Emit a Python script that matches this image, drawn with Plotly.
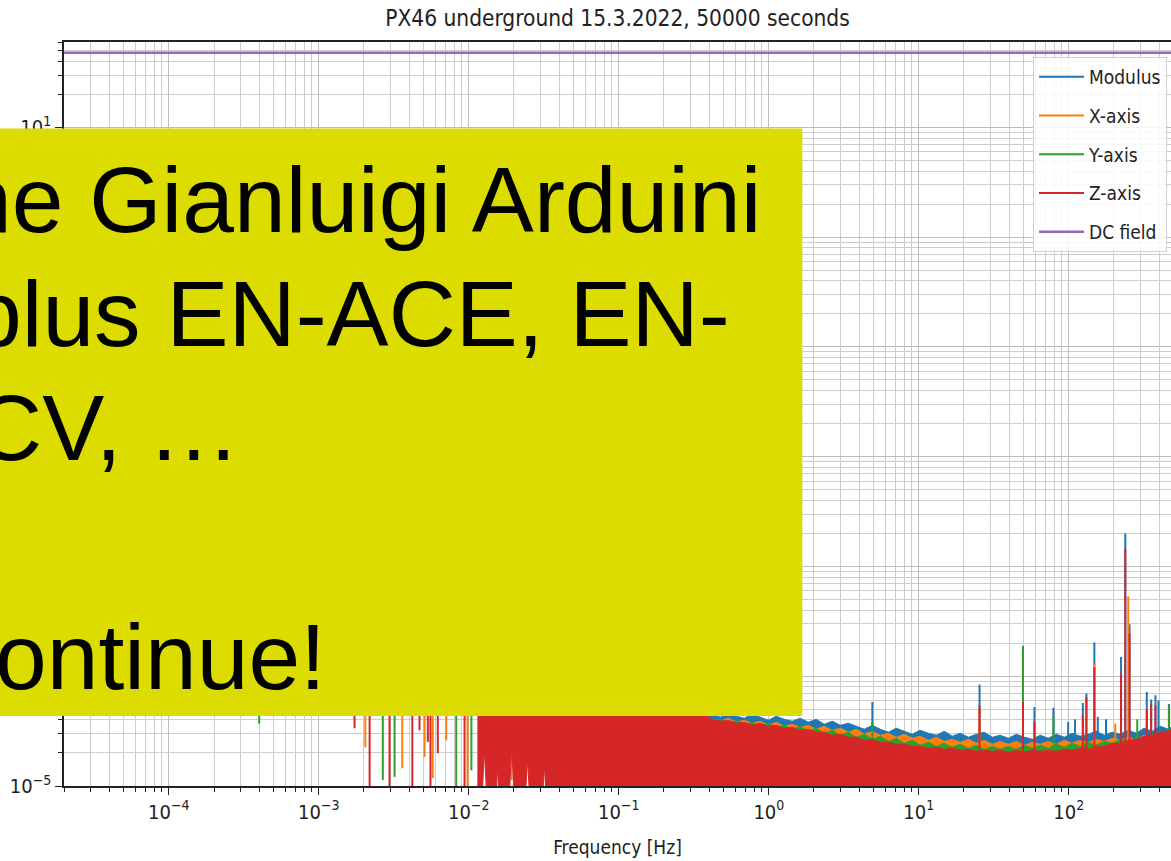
import math
import plotly.graph_objects as go

# ---------------------------------------------------------------------------
# Spectrum data (amplitude spectral density of the four magnetometer channels)
# ---------------------------------------------------------------------------
freq_min = 1 / 50000      # lowest resolved frequency of a 50000 s record, Hz
freq_max = 480            # upper end of the plotted band, Hz
floor_val = 1e-6          # below the lower edge of the plot
dip_level = 2e-4          # level the low-frequency dips fall from

# upper noise envelope of each channel above ~0.4 Hz
env_freq = [0.42, 0.475, 0.537, 0.607, 0.686, 0.776, 0.877, 0.992, 1.12, 1.27,
            1.43, 1.62, 1.83, 2.07, 2.34, 2.65, 3.0, 3.39, 3.83, 4.33,
            4.9, 5.54, 6.26, 7.08, 8.0, 9.05, 10.2, 11.6, 13.1, 14.8,
            16.7, 18.9, 21.4, 24.2, 27.3, 30.9, 34.9, 39.5, 44.7, 50.5,
            57.1, 64.5, 73, 82.5, 93.3, 105, 119, 135, 152, 172,
            195, 220, 249, 282, 318, 360, 407, 460, 480]
modulus_env = [4.50e-5, 4.23e-5, 4.60e-5, 4.32e-5, 4.14e-5, 4.50e-5, 4.23e-5, 3.97e-5, 4.32e-5, 4.05e-5,
               3.89e-5, 4.14e-5, 3.81e-5, 4.05e-5, 3.65e-5, 3.89e-5, 3.57e-5, 3.73e-5, 3.50e-5, 3.29e-5,
               3.57e-5, 3.29e-5, 3.09e-5, 3.36e-5, 3.15e-5, 2.96e-5, 3.22e-5, 3.02e-5, 2.90e-5, 3.15e-5,
               2.84e-5, 3.02e-5, 2.78e-5, 2.96e-5, 3.09e-5, 2.78e-5, 2.90e-5, 2.72e-5, 2.96e-5, 2.78e-5,
               2.66e-5, 2.90e-5, 2.72e-5, 2.96e-5, 2.78e-5, 3.02e-5, 2.84e-5, 2.96e-5, 3.15e-5, 2.90e-5,
               3.09e-5, 2.96e-5, 3.22e-5, 3.02e-5, 3.36e-5, 3.15e-5, 3.50e-5, 3.29e-5, 3.43e-5]
xaxis_env = [4.05e-5, 3.89e-5, 4.14e-5, 3.81e-5, 3.97e-5, 3.73e-5, 3.89e-5, 3.57e-5, 3.81e-5, 3.50e-5,
             3.65e-5, 3.43e-5, 3.57e-5, 3.29e-5, 3.50e-5, 3.22e-5, 3.36e-5, 3.09e-5, 3.29e-5, 2.96e-5,
             3.15e-5, 2.90e-5, 3.02e-5, 2.78e-5, 2.96e-5, 2.72e-5, 2.84e-5, 2.61e-5, 2.78e-5, 2.55e-5,
             2.66e-5, 2.50e-5, 2.66e-5, 2.45e-5, 2.61e-5, 2.40e-5, 2.55e-5, 2.40e-5, 2.55e-5, 2.35e-5,
             2.50e-5, 2.40e-5, 2.55e-5, 2.40e-5, 2.61e-5, 2.45e-5, 2.61e-5, 2.50e-5, 2.66e-5, 2.55e-5,
             2.72e-5, 2.61e-5, 2.78e-5, 2.66e-5, 2.90e-5, 2.78e-5, 3.02e-5, 2.84e-5, 2.96e-5]
yaxis_env = [3.89e-5, 4.05e-5, 3.73e-5, 3.97e-5, 3.65e-5, 3.81e-5, 3.50e-5, 3.73e-5, 3.43e-5, 3.57e-5,
             3.29e-5, 3.50e-5, 3.15e-5, 3.36e-5, 3.02e-5, 3.22e-5, 2.90e-5, 3.09e-5, 2.78e-5, 2.96e-5,
             2.66e-5, 2.84e-5, 2.55e-5, 2.72e-5, 2.45e-5, 2.61e-5, 2.35e-5, 2.50e-5, 2.30e-5, 2.45e-5,
             2.25e-5, 2.40e-5, 2.21e-5, 2.35e-5, 2.16e-5, 2.30e-5, 2.16e-5, 2.30e-5, 2.16e-5, 2.35e-5,
             2.21e-5, 2.35e-5, 2.21e-5, 2.40e-5, 2.25e-5, 2.45e-5, 2.30e-5, 2.50e-5, 2.35e-5, 2.55e-5,
             2.45e-5, 2.66e-5, 2.55e-5, 2.78e-5, 2.66e-5, 2.96e-5, 2.84e-5, 3.22e-5, 3.09e-5]
zaxis_env = [4.05e-5, 3.89e-5, 3.97e-5, 3.73e-5, 3.81e-5, 3.57e-5, 3.73e-5, 3.50e-5, 3.57e-5, 3.36e-5,
             3.43e-5, 3.22e-5, 3.29e-5, 3.09e-5, 3.09e-5, 2.90e-5, 2.96e-5, 2.78e-5, 2.78e-5, 2.61e-5,
             2.66e-5, 2.50e-5, 2.50e-5, 2.40e-5, 2.40e-5, 2.30e-5, 2.30e-5, 2.21e-5, 2.25e-5, 2.16e-5,
             2.21e-5, 2.12e-5, 2.16e-5, 2.07e-5, 2.12e-5, 2.07e-5, 2.12e-5, 2.03e-5, 2.12e-5, 2.03e-5,
             2.12e-5, 2.07e-5, 2.12e-5, 2.07e-5, 2.16e-5, 2.12e-5, 2.21e-5, 2.16e-5, 2.30e-5, 2.30e-5,
             2.45e-5, 2.45e-5, 2.61e-5, 2.66e-5, 2.84e-5, 2.90e-5, 3.09e-5, 3.15e-5, 3.22e-5]

# envelope below 0.4 Hz (band starts where the dense trace fills the plot)
lead_freq = [0.045, 0.1, 0.2, 0.35]
modulus_lead = [1.2e-4, 8.0e-5, 6.0e-5, 5.2e-5]
xaxis_lead = [1.1e-4, 7.5e-5, 5.8e-5, 5.0e-5]
yaxis_lead = [1.1e-4, 7.5e-5, 5.8e-5, 5.0e-5]
z_lead_freq = [0.0114, 0.02, 0.045, 0.1, 0.2, 0.35]
zaxis_lead = [3.0e-4, 2.0e-4, 1.3e-4, 8.0e-5, 6.0e-5, 5.0e-5]

# lower edge of the Z band where it first becomes dense
z_low_freq = [0.0114, 0.0127, 0.0142, 0.0155, 0.0173, 0.0193, 0.0218,
              0.0246, 0.0279, 0.032, 0.0356, 0.0402, 0.0442]
z_low_val = [floor_val, 2.12e-5, floor_val, 1.49e-5, floor_val, 2.27e-5, floor_val,
             1.71e-5, floor_val, 1.49e-5, floor_val, 1.13e-5, floor_val]

# isolated downward excursions at low frequency
xaxis_dip_freq = [2.04e-3, 3.6e-3, 5.07e-3, 5.75e-3, 7.07e-3, 9.8e-3, 0.0193]
xaxis_dip_val = [2.25e-5, 1.45e-5, 1.84e-5, 1.18e-5, 2.61e-5, floor_val, 1.13e-5]
yaxis_dip_freq = [4.0e-4, 2.67e-3, 3.2e-3, 8.24e-3, 0.0104]
yaxis_dip_val = [3.7e-5, 1.13e-5, 1.21e-5, floor_val, 1.39e-5]
zaxis_dip_freq = [1.73e-3, 2.18e-3, 2.96e-3, 4.2e-3, 4.69e-3, 5.33e-3, 5.55e-3, 6.21e-3, 9.36e-3]
zaxis_dip_val = [3.36e-5, floor_val, floor_val, floor_val, 3.22e-5, 2.52e-5, floor_val, 1.99e-5, floor_val]

# spectral lines
modulus_peak_freq = [4.9, 25.4, 49.5, 59, 79, 99, 110, 124, 131, 148,
                     156, 177, 223, 238, 254, 331, 354, 378, 396, 465]
modulus_peak_val = [5.83e-5, 8.39e-5, 1.89e-4, 5.25e-5, 5.18e-5, 3.83e-5, 4.05e-5, 5.7e-5, 6.95e-5, 2.03e-4,
                    4.26e-5, 4.05e-5, 1.50e-4, 2.0e-3, 2.98e-4, 7.19e-5, 6.13e-5, 6.71e-5, 6.04e-5, 5.6e-5]
xaxis_peak_freq = [25.4, 49.5, 148, 204, 249]
xaxis_peak_val = [5.0e-5, 1.2e-4, 1.30e-4, 3.7e-5, 5.35e-4]
yaxis_peak_freq = [4.9, 49.5, 79, 286, 465]
yaxis_peak_val = [3.83e-5, 1.85e-4, 4.26e-5, 4.05e-5, 5.44e-5]
zaxis_peak_freq = [25.4, 49.5, 59, 124, 131, 148, 223, 238, 254, 331, 354, 378]
zaxis_peak_val = [5.44e-5, 5.8e-5, 3.83e-5, 4.4e-5, 6.47e-5, 1.21e-4, 1.06e-4, 1.44e-3, 2.45e-4,
                  4.97e-5, 5.55e-5, 5.44e-5]

dc_field = 47.9

series_names = ["Modulus", "X-axis", "Y-axis", "Z-axis"]
dc_name = "DC field"

x_tick_vals = [1e-4, 1e-3, 1e-2, 1e-1, 1, 10, 100]
x_tick_text = ["10<sup>\u22124</sup>", "10<sup>\u22123</sup>", "10<sup>\u22122</sup>",
               "10<sup>\u22121</sup>", "10<sup>0</sup>", "10<sup>1</sup>", "10<sup>2</sup>"]
# decades 10^-4 .. 10^0 sit under the slide box, so only the ends carry a label
y_tick_vals = [1e-5, 1e-4, 1e-3, 1e-2, 1e-1, 1, 10]
y_tick_text = ["10<sup>\u22125</sup>", "", "", "", "", "", "10<sup>1</sup>"]
y_top = 60

title_text = "PX46 underground 15.3.2022, 50000 seconds"
x_title = "Frequency [Hz]"
box_lines = ["he Gianluigi Arduini", "plus EN-ACE, EN-", "CV, \u2026", "ontinue!"]

# ---------------------------------------------------------------------------
# Geometry and styling
# ---------------------------------------------------------------------------
W, H = 1171, 861
ML, MT, MB = 64, 42, 75
PW, PH = W - ML, H - MT - MB

def px(x):
    return (x - ML) / PW

def py(y):
    return (H - MB - y) / PH

COLORS = ["#1f77b4", "#ff7f0e", "#2ca02c", "#d62728"]
DC_COLOR = "#9467bd"
CHART_FONT = "DejaVu Sans Condensed, DejaVu Sans, sans-serif"
BOX_FONT = "Liberation Sans, Arial, sans-serif"
INK = "#222222"
GRID_MAJOR = "#bdbdbd"
GRID_MINOR = "#cdcdcd"
BOX_COLOR = "#dcdc00"


def segments(freqs, tops, bottoms):
    xs, ys = [], []
    for f, t, b in zip(freqs, tops, bottoms):
        xs += [f, f, None]
        ys += [b, t, None]
    return xs, ys


fig = go.Figure()

leads = [(lead_freq, modulus_lead), (lead_freq, xaxis_lead), (lead_freq, yaxis_lead), (z_lead_freq, zaxis_lead)]
envs = [modulus_env, xaxis_env, yaxis_env, zaxis_env]
dips = [([], []), (xaxis_dip_freq, xaxis_dip_val), (yaxis_dip_freq, yaxis_dip_val), (zaxis_dip_freq, zaxis_dip_val)]
peaks = [(modulus_peak_freq, modulus_peak_val), (xaxis_peak_freq, xaxis_peak_val),
         (yaxis_peak_freq, yaxis_peak_val), (zaxis_peak_freq, zaxis_peak_val)]

for i, name in enumerate(series_names):
    color = COLORS[i]
    lf, lv = leads[i]
    band_x = list(lf) + env_freq
    band_y = list(lv) + envs[i]
    if name == "Z-axis":
        band_x += [freq_max] + z_low_freq[::-1]
        band_y += [floor_val] + z_low_val[::-1]
    else:
        band_x += [env_freq[-1], lf[0]]
        band_y += [floor_val, floor_val]
    fig.add_trace(go.Scatter(
        x=band_x, y=band_y, mode="lines", fill="toself", fillcolor=color,
        line=dict(color=color, width=1), showlegend=False, legendgroup=name,
        hoverinfo="skip"))

    df, dv = dips[i]
    sx1, sy1 = segments(df, dv, [dip_level] * len(df))
    pf, pv = peaks[i]
    sx2, sy2 = segments(pf, pv, [floor_val] * len(pf))
    fig.add_trace(go.Scatter(
        x=sx1 + sx2, y=sy1 + sy2, mode="lines", name=name, legendgroup=name,
        line=dict(color=color, width=2), hoverinfo="skip"))

fig.add_trace(go.Scatter(
    x=[freq_min, freq_max], y=[dc_field, dc_field], mode="lines", name=dc_name,
    legendgroup=dc_name, line=dict(color=DC_COLOR, width=2.5), hoverinfo="skip"))

minor_x = [d * 10 ** k for k in range(-5, 3) for d in range(2, 10)]
minor_y = [d * 10 ** k for k in range(-6, 2) for d in range(2, 10)]

axis_common = dict(
    type="log", tickmode="array", ticks="outside", ticklen=7, tickwidth=1.3,
    tickcolor=INK, showline=True, linecolor=INK, linewidth=1.5,
    showgrid=True, gridcolor=GRID_MAJOR, gridwidth=1, zeroline=False,
    tickfont=dict(family=CHART_FONT, size=20, color=INK),
)

fig.update_layout(
    width=W, height=H,
    margin=dict(l=ML, r=0, t=MT, b=MB, pad=0),
    paper_bgcolor="white", plot_bgcolor="white",
    title=dict(text=title_text, x=0.5, xref="paper", xanchor="center",
               y=1 - 18 / H, yref="container", yanchor="middle",
               font=dict(family=CHART_FONT, size=22.5, color=INK)),
    xaxis=dict(
        axis_common, range=[math.log10(freq_min), math.log10(freq_max)],
        tickvals=x_tick_vals, ticktext=x_tick_text, mirror=True,
        minor=dict(tickmode="array", tickvals=minor_x, ticks="outside", ticklen=4,
                   tickcolor=INK, showgrid=True, gridcolor=GRID_MINOR, gridwidth=1),
        title=dict(text=x_title, standoff=18, font=dict(family=CHART_FONT, size=19, color=INK)),
    ),
    yaxis=dict(
        axis_common, range=[-5, math.log10(y_top)],
        tickvals=y_tick_vals, ticktext=y_tick_text, mirror=False,
        minor=dict(tickmode="array", tickvals=minor_y, ticks="outside", ticklen=4,
                   tickcolor=INK, showgrid=True, gridcolor=GRID_MINOR, gridwidth=1),
    ),
    legend=dict(
        x=px(1167), y=py(57), xanchor="right", yanchor="top",
        bgcolor="rgba(255,255,255,0.85)", bordercolor="#d0d0d0", borderwidth=1,
        font=dict(family=CHART_FONT, size=19, color=INK),
        tracegroupgap=11, itemwidth=45,
    ),
    hovermode=False,
)

# slide overlay box with its text
fig.add_shape(type="rect", xref="paper", yref="paper", layer="above",
              x0=px(-2), x1=px(802.3), y0=py(716), y1=py(128.6),
              fillcolor=BOX_COLOR, line=dict(width=0))

line_origin_x = [-40, -30, -25, -5]
line_baseline_y = [230.5, 344.8, 459.1, 687.7]
for text, ox, by in zip(box_lines, line_origin_x, line_baseline_y):
    fig.add_annotation(
        text=text, xref="paper", yref="paper", x=px(ox - 2), y=py(by - 30.7),
        xanchor="left", yanchor="middle", showarrow=False, align="left",
        font=dict(family=BOX_FONT, size=93, color="black"))

fig.write_html("out.html")
